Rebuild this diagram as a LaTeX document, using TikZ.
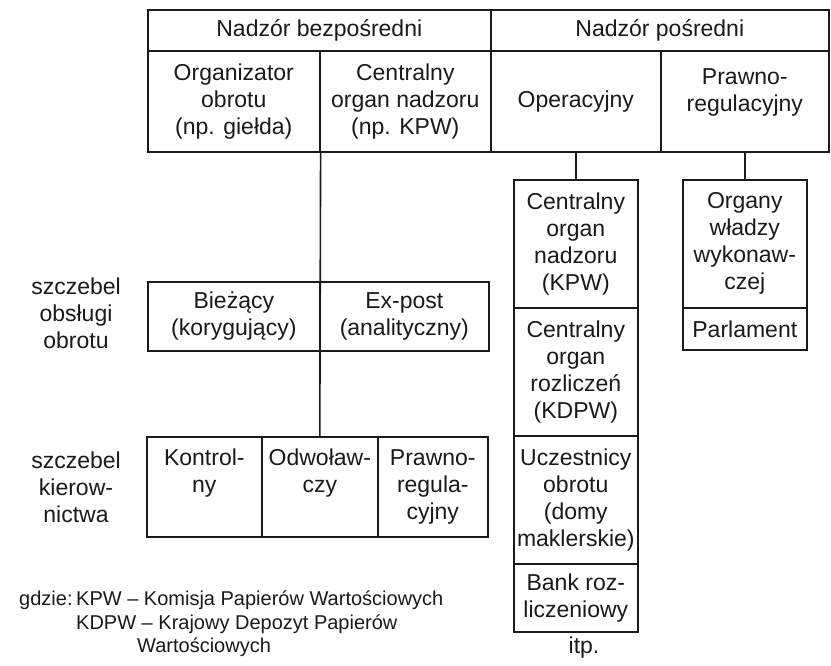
\documentclass[tikz,border=0pt]{standalone}
\usepackage{fontspec}
\setmainfont{Liberation Sans}
\begin{document}
\definecolor{ink}{HTML}{1A1A1A}
\newcommand{\cellfont}{\fontsize{23}{27}\selectfont}
\newcommand{\notefont}{\fontsize{20}{24}\selectfont}
\begin{tikzpicture}[x=1pt, y=-1pt,
  cell/.style={draw=ink, line width=1.6pt, inner sep=0pt, anchor=north west,
               align=center, font=\cellfont, text=ink},
  side/.style={align=center, font=\cellfont, text=ink, inner sep=0pt},
  note/.style={anchor=base west, font=\notefont, text=ink, inner sep=0pt},
  link/.style={draw=ink, line width=1.6pt}]
\useasboundingbox[fill=white] (0,0) rectangle (831,666);

% main table: direct and indirect supervision
\node[cell, minimum width=343pt, minimum height=41pt] (h1) at (147,9) {Nadzór bezpośredni};
\node[cell, minimum width=338pt, minimum height=41pt] (h2) at (490,9) {Nadzór pośredni};
\node[cell, minimum width=172pt, minimum height=101pt] (c1) at (147,50) {Organizator\\obrotu\\(np. giełda)};
\node[cell, minimum width=171pt, minimum height=101pt] (c2) at (319,50) {Centralny\\organ nadzoru\\(np. KPW)};
\node[cell, minimum width=170pt, minimum height=101pt] (c3) at (490,50) {Operacyjny};
\node[cell, minimum width=168pt, minimum height=101pt,
      label={[side, yshift=9pt]center:{Prawno-\\regulacyjny}}] (c4) at (660,50) {};

% trading service level
\node[cell, minimum width=172pt, minimum height=69pt] (b1) at (147,281) {Bieżący\\(korygujący)};
\node[cell, minimum width=169pt, minimum height=69pt] (b2) at (319,281) {Ex-post\\(analityczny)};

% management level
\node[cell, minimum width=115pt, minimum height=100pt] (k1) at (146,436) {Kontrol-\\ny\\\phantom{y}};
\node[cell, minimum width=116pt, minimum height=100pt] (k2) at (261,436) {Odwoław-\\czy\\\phantom{y}};
\node[cell, minimum width=110pt, minimum height=100pt] (k3) at (377,436) {Prawno-\\regula-\\cyjny};

% operational column
\node[cell, minimum width=124pt, minimum height=128pt] (o1) at (513,179) {Centralny\\organ\\nadzoru\\(KPW)};
\node[cell, minimum width=124pt, minimum height=128pt] (o2) at (513,307) {Centralny\\organ\\rozliczeń\\(KDPW)};
\node[cell, minimum width=124pt, minimum height=128pt] (o3) at (513,435) {Uczestnicy\\obrotu\\(domy\\maklerskie)};
\node[cell, minimum width=124pt, minimum height=68pt] (o4) at (513,563) {Bank roz-\\liczeniowy};
\node[side] (etc) at (584,648) {itp.};

% legal-regulatory column
\node[cell, minimum width=124pt, minimum height=128pt] (p1) at (682,179) {Organy\\władzy\\wykonaw-\\czej};
\node[cell, minimum width=124pt, minimum height=42pt] (p2) at (682,307) {Parlament};

% level labels
\node[side] (lv1) at (76,313) {szczebel\\obsługi\\obrotu};
\node[side] (lv2) at (76,487) {szczebel\\kierow-\\nictwa};

% connectors
\draw[link] (c1.south east) -- (k2.north);
\draw[link] (c3.south) -- (o1.north);
\draw[link] (c4.south) -- (p1.north);

% abbreviations
\node[note] (g0) at (19,605) {gdzie:};
\node[note] (g1) at (76,605) {KPW -- Komisja Papierów Wartościowych};
\node[note] (g2) at (76,629) {KDPW -- Krajowy Depozyt Papierów};
\node[note] (g3) at (137,652) {Wartościowych};
\end{tikzpicture}
\end{document}
